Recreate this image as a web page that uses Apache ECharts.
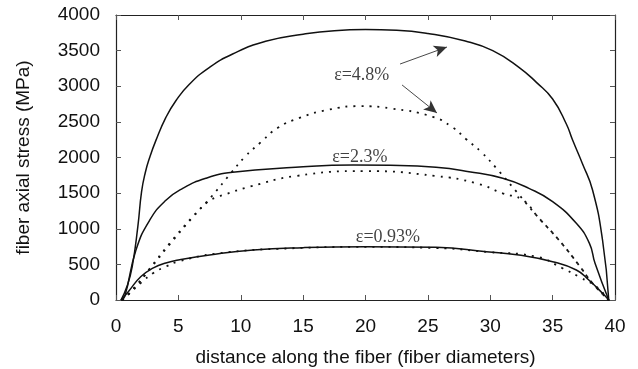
<!DOCTYPE html>
<html>
<head>
<meta charset="utf-8">
<script src="https://cdn.jsdelivr.net/npm/echarts@6/dist/echarts.min.js"></script>
<style>
html, body { margin: 0; padding: 0; background: #fff; }
#chart { width: 638px; height: 369px; }
</style>
</head>
<body>
<div id="chart"></div>
<script>
// x: distance (fiber diameters), y: fiber axial stress (MPa)
var xTicks = { min: 0, max: 40, step: 5 };
var yTicks = { min: 0, max: 4000, step: 500 };

// solid curves
var solid48 = [[0.4,0],[0.9,200],[1.3,470],[1.75,1030],[2.05,1520],[2.35,1790],[2.7,2000],[3.2,2240],[4.0,2564],[4.8,2797],[5.9,3032],[7.5,3266],[9.35,3453],[12,3631],[15,3730],[17.5,3780],[20,3795],[22.5,3785],[25,3740],[28,3635],[30.2,3500],[32.3,3266],[33.7,3055],[35,2821],[36.1,2470],[36.6,2245],[37.4,1909],[38.2,1544],[39,842],[39.5,0]];
var solid23 = [[0.4,0],[0.7,50],[1.6,700],[2.7,1120],[4.0,1400],[5.35,1567],[7.2,1708],[9.35,1792],[14.4,1862],[19,1895],[22,1890],[25.65,1862],[28.3,1801],[31,1708],[33.1,1567],[35,1380],[36.9,1076],[37.95,795],[38.4,515],[39.5,0]];
var solid093 = [[0.4,0],[1,120],[2,330],[3,450],[4,520],[5.1,565],[7.5,632],[11,702],[15,735],[20,748],[25.65,739],[29.7,678],[32.3,632],[35,538],[36.9,421],[37.9,281],[39,94],[39.5,0]];

// dotted curves
var dot48 = [[0.5,0],[1.5,180],[2.7,440],[4.3,795],[6.1,1160],[7.6,1441],[9.2,1778],[10.3,2003],[11.6,2213],[13,2420],[14.7,2555],[17,2670],[19.6,2720],[22,2690],[25.4,2570],[27,2420],[28.05,2260],[29.3,2073],[30.5,1848],[32.1,1520],[33.8,1169],[35.5,842],[37.1,491],[38.2,234],[39.5,0]];
var dot23 = [[0.5,0],[1.5,170],[2.7,430],[4.3,780],[6.1,1150],[7.3,1370],[8.0,1440],[8.7,1480],[10.7,1590],[14.4,1740],[20,1810],[25.65,1740],[28.9,1637],[31,1497],[32.6,1404],[33.8,1169],[35.5,842],[37.1,491],[38.2,234],[39.5,0]];
var dot093 = [[0.5,0],[1,80],[2,240],[3,380],[4,470],[5,540],[8,650],[14,725],[20,745],[25.65,730],[29.7,675],[33.7,608],[35.8,445],[37.1,327],[38.5,187],[39.5,0]];

// annotations (data coords)
var notes = [
  { name: 'ε=4.8%', value: [19.7, 3158] },
  { name: 'ε=2.3%', value: [19.55, 2007] },
  { name: 'ε=0.93%', value: [21.8, 880] }
];
var arrows = [
  [[22.77, 3312], [26.53, 3551]],
  [[22.93, 3018], [25.73, 2625]]
];

var chart = echarts.init(document.getElementById('chart'), null, { renderer: 'canvas' });
var sans = "'Liberation Sans', Arial, sans-serif";
var ink = '#111';

function curve(name, data, dotted) {
  return {
    name: name,
    type: 'line',
    data: data,
    smooth: 0.5,
    showSymbol: false,
    silent: true,
    lineStyle: dotted
      ? { color: ink, width: 1.8, type: [2, 6] }
      : { color: ink, width: 1.5 }
  };
}

function frame(extra) {
  return Object.assign({
    axisLine: { show: true, onZero: false, lineStyle: { color: '#222', width: 1.2 } },
    axisTick: { show: true, inside: true, length: 5, lineStyle: { color: '#555' } },
    splitLine: { show: false }
  }, extra);
}
var plain = function (v) { return String(v); };

chart.setOption({
  animation: false,
  backgroundColor: '#fff',
  grid: { left: 116, right: 23, top: 15, bottom: 69, containLabel: false, outerBoundsMode: 'none' },
  xAxis: [
    frame({
      type: 'value', min: xTicks.min, max: xTicks.max, interval: xTicks.step,
      name: 'distance along the fiber (fiber diameters)',
      nameLocation: 'middle', nameGap: 48,
      nameTextStyle: { fontFamily: sans, fontSize: 19, color: ink },
      axisLabel: { fontFamily: sans, fontSize: 19, color: ink, margin: 17, formatter: plain }
    }),
    frame({
      type: 'value', position: 'top', min: xTicks.min, max: xTicks.max, interval: xTicks.step,
      axisLabel: { show: false }
    })
  ],
  yAxis: [
    frame({
      type: 'value', min: yTicks.min, max: yTicks.max, interval: yTicks.step,
      name: 'fiber axial stress (MPa)',
      nameLocation: 'middle', nameGap: 83,
      nameTextStyle: { fontFamily: sans, fontSize: 19, color: ink },
      axisLabel: { fontFamily: sans, fontSize: 19, color: ink, margin: 16, formatter: plain }
    }),
    frame({
      type: 'value', position: 'right', min: yTicks.min, max: yTicks.max, interval: yTicks.step,
      axisLabel: { show: false }
    })
  ],
  series: [
    curve('4.8% solid', solid48, false),
    curve('2.3% solid', solid23, false),
    curve('0.93% solid', solid093, false),
    curve('4.8% dotted', dot48, true),
    curve('2.3% dotted', dot23, true),
    curve('0.93% dotted', dot093, true),
    {
      type: 'scatter',
      data: notes,
      symbolSize: 0,
      silent: true,
      label: {
        show: true,
        position: 'inside',
        formatter: function (p) { return p.name; },
        fontFamily: "'Liberation Serif', 'Times New Roman', serif",
        fontSize: 18,
        color: ink
      },
      markLine: {
        silent: true,
        symbol: ['none', 'arrow'],
        symbolSize: [9, 13],
        label: { show: false },
        lineStyle: { color: '#333', width: 0.9, type: 'solid' },
        data: arrows.map(function (a) {
          return [{ coord: a[0] }, { coord: a[1] }];
        })
      }
    }
  ]
});
</script>
</body>
</html>
